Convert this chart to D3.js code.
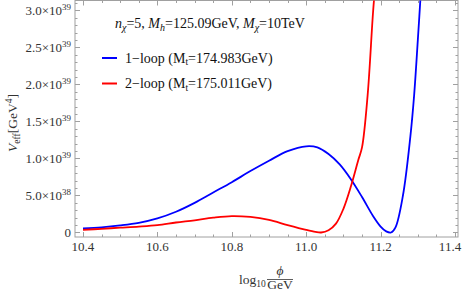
<!DOCTYPE html>
<html><head><meta charset="utf-8">
<script src="https://cdn.jsdelivr.net/npm/d3@7"></script>
<style>body{margin:0;background:#fff}svg{display:block}</style>
</head><body><svg id="c" width="463" height="291" style="font-family:'Liberation Serif','DejaVu Serif',serif"></svg>
<script>
// data: x = log10(phi/GeV), V_eff in units of 1e39 GeV^4
const oneLoopX = [10.40,10.45,10.50,10.55,10.60,10.65,10.70,10.75,10.80,10.85,10.90,10.95,11.00,11.03,11.06,11.09,11.12,11.15,11.18,11.20,11.215,11.228,11.24,11.26,11.28,11.29,11.30,11.31];
const oneLoopV = [0.055,0.07,0.095,0.13,0.19,0.28,0.40,0.54,0.68,0.83,0.97,1.10,1.165,1.15,1.06,0.92,0.72,0.48,0.22,0.08,0.015,0.0,0.07,0.5,1.3,1.85,2.6,3.4];
const twoLoopX = [10.40,10.45,10.50,10.55,10.60,10.65,10.70,10.75,10.80,10.85,10.90,10.95,11.00,11.025,11.04,11.06,11.08,11.10,11.12,11.14,11.15,11.165,11.18,11.19];
const twoLoopV = [0.035,0.05,0.065,0.08,0.10,0.135,0.165,0.20,0.222,0.21,0.17,0.10,0.035,0.008,0.0,0.03,0.12,0.32,0.62,0.98,1.15,1.85,3.0,3.6];
const xTicks = [10.4,10.6,10.8,11.0,11.2,11.4];
const xTickLabels = ["10.4","10.6","10.8","11.0","11.2","11.4"];
const yTicks = [0,0.5,1.0,1.5,2.0,2.5,3.0];
const yTickMant = ["0","5.0","1.0","1.5","2.0","2.5","3.0"];
const yTickExp = ["","38","39","39","39","39","39"];
const seriesNames = ["1\u2212loop (M","2\u2212loop (M"];
const seriesMt = ["=174.983GeV)","=175.011GeV)"];
const seriesColors = ["#0000ff","#ff0000"];

const FONT = "'Liberation Serif','DejaVu Serif',serif";
const svg = d3.select("#c");
const L=75, R=458, T=0.5, B=237;
const x = d3.scaleLinear().domain([10.3785,11.408]).range([L,R]);
const y = d3.scaleLinear().domain([-0.061,3.135]).range([B,T]);

svg.append("defs").append("clipPath").attr("id","cp").append("rect")
  .attr("x",L).attr("y",T).attr("width",R-L).attr("height",B-T);

const frameCol="#a0a0a0";
svg.append("rect").attr("x",L).attr("y",T).attr("width",R-L).attr("height",B-T)
  .attr("fill","none").attr("stroke",frameCol).attr("stroke-width",1);

const g = svg.append("g").attr("stroke",frameCol).attr("stroke-width",1);
const xMinor = d3.range(10.4,11.401,0.05);
xMinor.forEach(v=>{
  const major = xTicks.some(t=>Math.abs(t-v)<1e-6);
  const len = major?5:2.5;
  const px = Math.round(x(v))+0.5;
  g.append("line").attr("x1",px).attr("x2",px).attr("y1",B).attr("y2",B-len);
  g.append("line").attr("x1",px).attr("x2",px).attr("y1",T).attr("y2",T+len);
});
const yMinor = d3.range(0,3.101,0.1);
yMinor.forEach(v=>{
  const major = yTicks.some(t=>Math.abs(t-v)<1e-6);
  const len = major?5:2.5;
  const py = Math.round(y(v))+0.5;
  g.append("line").attr("x1",L).attr("x2",L+len).attr("y1",py).attr("y2",py);
  g.append("line").attr("x1",R).attr("x2",R-len).attr("y1",py).attr("y2",py);
});

const txt = (sel)=>sel.append("text").style("font-family",FONT);

xTicks.forEach((t,i)=>{
  txt(svg).attr("x",Math.min(x(t),450)).attr("y",B+14).attr("text-anchor","middle")
    .attr("font-size",13).attr("fill","#333").text(xTickLabels[i]);
});
yTicks.forEach((t,i)=>{
  const tx = txt(svg).attr("x",71).attr("y",y(t)+4.5).attr("text-anchor","end")
    .attr("font-size",13).attr("fill","#333");
  if(yTickExp[i]){
    tx.append("tspan").text(yTickMant[i]+"\u00d710");
    tx.append("tspan").attr("dy",-5).attr("font-size",9).text(yTickExp[i]);
  } else tx.text(yTickMant[i]);
});

const line = d3.line().x(d=>x(d[0])).y(d=>y(d[1])).curve(d3.curveCatmullRom.alpha(0.5));
const pg = svg.append("g").attr("clip-path","url(#cp)");
[[oneLoopX,oneLoopV],[twoLoopX,twoLoopV]].forEach((s,i)=>{
  pg.append("path").attr("d",line(d3.zip(s[0],s[1]))).attr("fill","none")
    .attr("stroke",seriesColors[i]).attr("stroke-width",1.8);
});

const tt = txt(svg).attr("x",115).attr("y",28).attr("font-size",14).attr("fill","#111");
tt.append("tspan").attr("font-style","italic").text("n");
tt.append("tspan").attr("font-style","italic").attr("font-size",10).attr("dy",3).text("\u03c7");
tt.append("tspan").attr("dy",-3).text("=5, ");
tt.append("tspan").attr("font-style","italic").text("M");
tt.append("tspan").attr("font-style","italic").attr("font-size",10).attr("dy",3).text("h");
tt.append("tspan").attr("dy",-3).text("=125.09GeV, ");
tt.append("tspan").attr("font-style","italic").text("M");
tt.append("tspan").attr("font-style","italic").attr("font-size",10).attr("dy",3).text("\u03c7");
tt.append("tspan").attr("dy",-3).text("=10TeV");

[0,1].forEach(i=>{
  const ly = 58 + i*25.5;
  svg.append("line").attr("x1",102).attr("x2",117).attr("y1",ly).attr("y2",ly)
    .attr("stroke",seriesColors[i]).attr("stroke-width",2);
  const lt = txt(svg).attr("x",125).attr("y",ly+4.5).attr("font-size",14).attr("fill","#111");
  lt.append("tspan").text(seriesNames[i]);
  lt.append("tspan").attr("font-size",9.5).attr("dy",2.5).text("t");
  lt.append("tspan").attr("dy",-2.5).text(seriesMt[i]);
});

const yl = txt(svg).attr("transform","translate(17,123) rotate(-90)")
  .attr("text-anchor","middle").attr("font-size",13.5).attr("fill","#333");
yl.append("tspan").attr("font-style","italic").text("V");
yl.append("tspan").attr("font-size",9.5).attr("dy",2.5).text("eff");
yl.append("tspan").attr("dy",-2.5).text("[GeV");
yl.append("tspan").attr("font-size",9.5).attr("dy",-5).text("4");
yl.append("tspan").attr("dy",5).text("]");

txt(svg).attr("x",239).attr("y",284).attr("font-size",13.5).attr("fill","#333")
  .call(t=>{t.append("tspan").text("log");t.append("tspan").attr("font-size",9.5).attr("dy",3).text("10");});
txt(svg).attr("x",280).attr("y",275).attr("text-anchor","middle").attr("font-size",13.5)
  .attr("font-style","italic").attr("fill","#333").text("\u03d5");
svg.append("line").attr("x1",267).attr("x2",293).attr("y1",279.5).attr("y2",279.5).attr("stroke","#333").attr("stroke-width",0.8);
txt(svg).attr("x",280).attr("y",289).attr("text-anchor","middle").attr("font-size",13.5)
  .attr("fill","#333").text("GeV");
</script></body></html>
